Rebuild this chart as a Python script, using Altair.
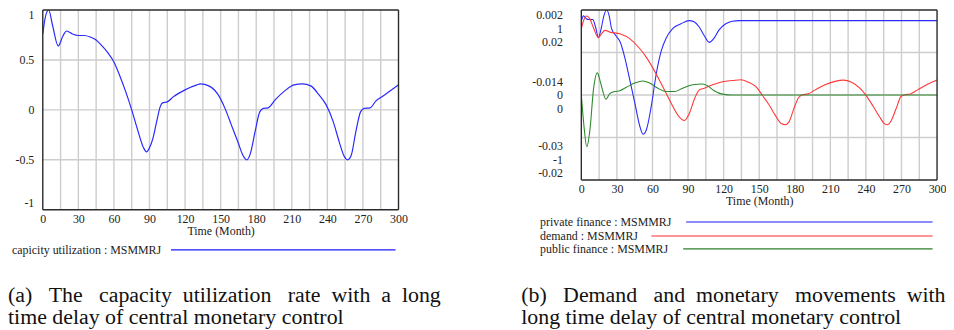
import altair as alt
import pandas as pd

# ---------------- data ----------------
# (a) capacity utilization
cu_month = [0, 2, 5, 8, 13, 17, 20, 25, 30, 35, 40, 45, 50, 55, 60, 65, 70, 75, 80, 85,
            87.5, 90, 93, 96, 99, 101, 105, 110, 120, 130, 133, 140, 148, 153.5, 159, 164.5,
            169, 172, 175, 179, 183, 186, 190, 196, 204, 212, 219, 226, 233, 239, 245, 250,
            254, 257, 260, 264, 268, 271, 276, 281, 287, 294, 300]
cu_value = [0.76, 0.92, 1.0, 0.86, 0.64, 0.74, 0.79, 0.76, 0.745, 0.745, 0.73, 0.70, 0.64,
            0.57, 0.48, 0.34, 0.18, 0.0, -0.20, -0.38, -0.42, -0.38, -0.28, -0.12, 0.03,
            0.07, 0.08, 0.13, 0.20, 0.25, 0.26, 0.24, 0.15, 0.02, -0.15, -0.32, -0.46, -0.50,
            -0.44, -0.22, -0.02, 0.015, 0.02, 0.10, 0.19, 0.25, 0.26, 0.24, 0.15, 0.05, -0.12,
            -0.32, -0.46, -0.50, -0.46, -0.22, -0.02, 0.015, 0.02, 0.09, 0.14, 0.20, 0.25]

# (b) private finance (own scale -0.03 .. 0.002)
pf_month = [0, 1.8, 4, 6, 9.6, 12, 14.4, 17, 19, 21.3, 23.5, 25.5, 29.7, 32.5, 36.7, 41, 45,
            49.2, 52, 54.8, 59, 63.2, 67.4, 71.5, 77, 84, 91, 95, 99.4, 103.6, 107.8, 112,
            116, 121.8, 127.3, 133, 200, 300]
pf_value = [-0.0001, 0.0009, 0.0004, 0.0002, 0.0002, -0.0012, -0.0032, -0.0012, 0.0009,
            0.002, 0.0009, -0.0015, -0.003, -0.0039, -0.007, -0.0113, -0.0154, -0.0198,
            -0.0214, -0.0206, -0.0161, -0.010, -0.0057, -0.0033, -0.0015, -0.0006, 0.0,
            -0.0002, -0.0012, -0.0028, -0.0041, -0.0033, -0.0018, -0.0006, -0.0001, 0.0,
            0.0, 0.0]

# (b) demand (own scale -1 .. 1)
dm_month = [0, 2, 4.6, 7.4, 10, 14.4, 17, 20, 24, 32.5, 41, 49, 55, 60.6, 66, 71.5, 77, 82.7,
            87, 91, 95.3, 99.5, 103.7, 110.7, 119, 127.5, 134.5, 141, 147, 152.5, 158, 163.6,
            169, 172, 175, 179, 183.3, 186, 191.6, 197.2, 205.5, 213.9, 220.9, 227.9, 234.9,
            240.4, 246, 251.6, 255.8, 258, 261.4, 265.5, 269.7, 272.5, 278, 283.6, 292, 300]
dm_value = [0.78, 0.88, 0.93, 0.89, 0.80, 0.674, 0.72, 0.76, 0.74, 0.72, 0.66, 0.55, 0.44,
            0.31, 0.17, 0.02, -0.13, -0.26, -0.30, -0.22, -0.05, 0.06, 0.08, 0.12, 0.155,
            0.17, 0.18, 0.15, 0.10, 0.0, -0.11, -0.24, -0.34, -0.35, -0.32, -0.17, -0.03,
            0.0, 0.015, 0.06, 0.12, 0.16, 0.175, 0.15, 0.08, -0.01, -0.13, -0.26, -0.34,
            -0.35, -0.30, -0.16, -0.015, 0.0, 0.015, 0.06, 0.125, 0.175]

# (b) public finance (own scale -0.02 .. 0.02)
pub_month = [0, 2.4, 4.6, 7.4, 10.2, 13.5, 16.3, 20.8, 24, 28.3, 32.5, 38, 45, 52, 57.6, 64.5,
             71.5, 78.5, 85.5, 93.9, 102.3, 106.4, 112, 119, 127.5, 200, 300]
pub_value = [0.0, -0.0078, -0.0122, -0.0078, 0.0012, 0.0052, 0.0028, -0.001, 0.0003, 0.0008,
             0.001, 0.0018, 0.0028, 0.0033, 0.0028, 0.0016, 0.0008, 0.0008, 0.0016, 0.0024,
             0.0026, 0.0022, 0.001, 0.0002, 0.0, 0.0, 0.0]

series_names = ["private finance", "demand", "public finance"]
scale_top = [0.002, 1, 0.02]
scale_bottom = [-0.03, -1, -0.02]
top_labels = ["0.002", "1", "0.02"]
mid_labels = ["-0.014", "0", "0"]
bottom_labels = ["-0.03", "-1", "-0.02"]

y_ticks = [-1, -0.5, 0, 0.5, 1]
left_y_labels = ["-1", "-0.5", "0", "0.5", "1"]
x_domain = [0, 300]
y_domain = [-1, 1]
x_grid = list(range(0, 301, 15))

legend_left = "capicity utilization : MSMMRJ"
legend_right = ["private finance : MSMMRJ", "demand : MSMMRJ", "public finance : MSMMRJ"]
line_colors = ["#2a2aff", "#ff3838", "#2f8a2f"]
legend_colors = ["#1a1aff", "#ff2a2a", "#2a802a"]

NB = "\u00a0"
cap_a = ["(a)" + NB * 3 + "The" + NB * 3 + "capacity" + NB * 2 + "utilization" + NB * 3 +
         "rate" + NB * 2 + "with" + NB * 2 + "a" + NB * 2 + "long",
         "time delay of central monetary control"]
cap_b = ["(b)" + NB * 3 + "Demand" + NB * 3 + "and" + NB * 2 + "monetary" + NB * 3 +
         "movements" + NB * 2 + "with",
         "long time delay of central monetary control"]

# ---------------- styling ----------------
FONT = "Liberation Serif"
W = 358
HL = 201
HR = 171
TOP = 8.65          # page y of both plot tops
INK = "#222222"
GRID = "#cdcdcd"
FRAME = "#2a2a2a"

x_label_expr = "datum.value % 30 == 0 ? datum.label : ''"


def x_axis():
    return alt.Axis(values=x_grid, labelExpr=x_label_expr, title="Time (Month)",
                    grid=False, ticks=False, domain=False, labelFlush=False,
                    labelOverlap=False, labelPadding=4, titlePadding=1,
                    labelFont=FONT, labelFontSize=12, labelColor=INK,
                    titleFont=FONT, titleFontSize=12, titleFontWeight="normal",
                    titleColor=INK)


def js_list(lst):
    return "[" + ",".join("'" + s + "'" for s in lst) + "]"


left_y_expr = " : ".join("datum.value == %s ? '%s'" % (v, l)
                         for v, l in zip(y_ticks, left_y_labels)) + " : ''"
right_y_expr = ("datum.value == 1 ? " + js_list(top_labels) +
                " : datum.value == 0 ? " + js_list(mid_labels) +
                " : datum.value == -1 ? " + js_list(bottom_labels) + " : ''")

left_y_axis = alt.Axis(values=y_ticks, labelExpr=left_y_expr, title=None,
                       grid=False, ticks=False, domain=False, labelFlush=True,
                       labelOverlap=False, labelPadding=9, labelFont=FONT,
                       labelFontSize=12, labelColor=INK)
right_y_axis = alt.Axis(values=y_ticks, labelExpr=right_y_expr, title=None,
                        grid=False, ticks=False, domain=False, labelFlush=True,
                        labelOverlap=False, labelPadding=19, labelLineHeight=13.6,
                        labelOffset={"condition": [{"test": "datum.value == 0", "value": -13.6},
                                                   {"test": "datum.value == -1", "value": -27.2}],
                                     "value": 0},
                        labelFont=FONT, labelFontSize=12, labelColor=INK)

xscale = alt.Scale(domain=x_domain, nice=False, zero=False)
yscale = alt.Scale(domain=y_domain, nice=False, zero=False)

df_vgrid = pd.DataFrame({"month": [g for g in x_grid if g not in x_domain]})
df_hgrid = pd.DataFrame({"v": [t for t in y_ticks if t not in y_domain]})
df_vframe = pd.DataFrame({"month": x_domain})
df_hframe = pd.DataFrame({"v": y_domain})


def grid_layers(yaxis):
    vg = alt.Chart(df_vgrid).mark_rule(color=GRID, strokeWidth=1.4).encode(
        x=alt.X("month:Q", scale=xscale, axis=x_axis()))
    hg = alt.Chart(df_hgrid).mark_rule(color=GRID, strokeWidth=1.4).encode(
        y=alt.Y("v:Q", scale=yscale, axis=yaxis))
    return vg, hg


def frame_layers(yaxis):
    vf = alt.Chart(df_vframe).mark_rule(color=FRAME, strokeWidth=1.4).encode(
        x=alt.X("month:Q", scale=xscale, axis=x_axis()))
    hf = alt.Chart(df_hframe).mark_rule(color=FRAME, strokeWidth=1.4).encode(
        y=alt.Y("v:Q", scale=yscale, axis=yaxis))
    return vf, hf


def text_at(txt, x, y, size=12, color=INK, baseline="middle", align="left", opacity=1):
    return alt.Chart(pd.DataFrame({"t": [txt]})).mark_text(
        font=FONT, fontSize=size, color=color, align=align, baseline=baseline,
        opacity=opacity
    ).encode(text="t:N", x=alt.value(x), y=alt.value(y))


# ---------------- left panel ----------------
df_cu = pd.DataFrame({"month": cu_month, "value": cu_value})
line_l = alt.Chart(df_cu).mark_line(
    color=line_colors[0], strokeWidth=1.2, interpolate="monotone", clip=True
).encode(
    x=alt.X("month:Q", scale=xscale, axis=x_axis()),
    y=alt.Y("value:Q", scale=yscale, axis=left_y_axis),
)

leg_y_l = 250 - TOP
leg_l_text = text_at(legend_left, -31, leg_y_l)
leg_l_line = alt.Chart(pd.DataFrame({"t": [legend_left]})).mark_rule(
    color=legend_colors[0], strokeWidth=1.1
).encode(x=alt.value(129), x2=alt.value(355), y=alt.value(leg_y_l))

cap_l1 = text_at(cap_a[0], -35, 303 - TOP, size=22, color="#111", baseline="alphabetic")
cap_l2 = text_at(cap_a[1], -35, 325 - TOP, size=22, color="#111", baseline="alphabetic")

# invisible marker fixing the left panel's right extent (gap to the right panel)
marker = text_at(".", 420, 0, size=4, baseline="top", align="right", opacity=0)

vg_l, hg_l = grid_layers(left_y_axis)
vf_l, hf_l = frame_layers(left_y_axis)
left = alt.layer(vg_l, hg_l, line_l, vf_l, hf_l, leg_l_text, leg_l_line, cap_l1, cap_l2,
                 marker).properties(width=W, height=HL)

# ---------------- right panel ----------------
frames = []
for name, months, vals, top, bot in zip(series_names, [pf_month, dm_month, pub_month],
                                        [pf_value, dm_value, pub_value], scale_top,
                                        scale_bottom):
    d = pd.DataFrame({"month": months, "value": vals})
    d["series"] = name
    mid = (top + bot) / 2.0
    half = (top - bot) / 2.0
    d["norm"] = (d["value"] - mid) / half
    frames.append(d)
df_r = pd.concat(frames, ignore_index=True)

line_r = alt.Chart(df_r).mark_line(strokeWidth=1.1, interpolate="monotone", clip=True).encode(
    x=alt.X("month:Q", scale=xscale, axis=x_axis()),
    y=alt.Y("norm:Q", scale=yscale, axis=right_y_axis),
    color=alt.Color("series:N", scale=alt.Scale(domain=series_names, range=line_colors),
                    legend=None),
    detail="series:N",
)

leg_y = [222 - TOP, 236 - TOP, 249 - TOP]
leg_x0 = [105.5, 70.5, 102.5]
leg_layers = []
for txt, yy, x0, col in zip(legend_right, leg_y, leg_x0, legend_colors):
    leg_layers.append(text_at(txt, -41.5, yy))
    leg_layers.append(alt.Chart(pd.DataFrame({"t": [txt]})).mark_rule(
        color=col, strokeWidth=1.1
    ).encode(x=alt.value(x0), x2=alt.value(353.5), y=alt.value(yy)))

cap_r1 = text_at(cap_b[0], -60.5, 303 - TOP, size=22, color="#111", baseline="alphabetic")
cap_r2 = text_at(cap_b[1], -60.5, 325 - TOP, size=22, color="#111", baseline="alphabetic")

vg_r, hg_r = grid_layers(right_y_axis)
vf_r, hf_r = frame_layers(right_y_axis)
right = alt.layer(vg_r, hg_r, line_r, vf_r, hf_r, *leg_layers, cap_r1, cap_r2).properties(
    width=W, height=HR)

chart = alt.hconcat(left, right, spacing=61).properties(
    padding=0, background="white"
).configure_view(
    strokeOpacity=0
)

chart.save("out.html", embed_options={"renderer": "svg", "actions": False})
